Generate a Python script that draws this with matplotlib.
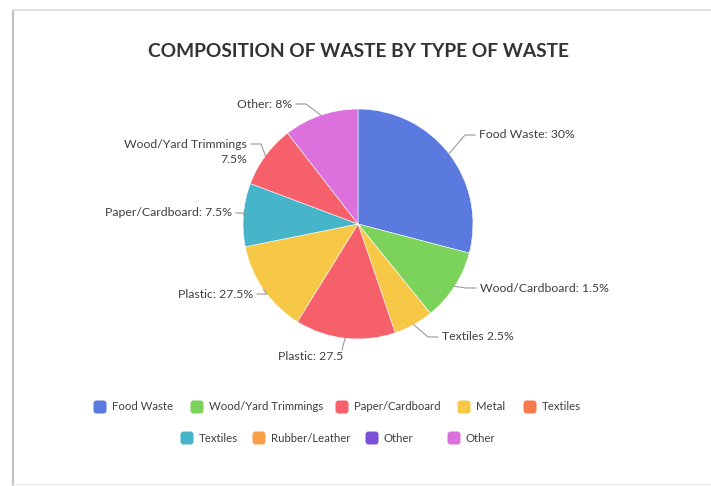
import numpy as np
import matplotlib.pyplot as plt
from matplotlib.patches import FancyBboxPatch

plt.rcParams['font.family'] = ['Lato', 'DejaVu Sans']

# slices, clockwise from 12 o'clock (sizes)
slice_labels = ['Food Waste: 30%', 'Wood/Cardboard: 1.5%', 'Textiles 2.5%', 'Plastic: 27.5',
                'Plastic: 27.5%', 'Paper/Cardboard: 7.5%', 'Wood/Yard Trimmings\n7.5%', 'Other: 8%']
slice_values = [29.1, 10.1, 5.6, 14.1, 13.0, 8.9, 8.8, 10.5]
slice_colors = ['#5a7ae0', '#7cd35c', '#f7c846', '#f6606a', '#f7c846', '#46b5c9', '#f6606a', '#dc70dc']

legend_labels = ['Food Waste', 'Wood/Yard Trimmings', 'Paper/Cardboard', 'Metal', 'Textiles',
                 'Textiles', 'Rubber/Leather', 'Other', 'Other']
legend_colors = ['#5a7ae0', '#7cd35c', '#f6606a', '#f7c846', '#f57a4e',
                 '#46b5c9', '#f7a045', '#7b50d6', '#dc70dc']

title = 'COMPOSITION OF WASTE BY TYPE OF WASTE'

W, H = 711, 486
fig = plt.figure(figsize=(W / 100, H / 100), dpi=100)
ax = fig.add_axes([0, 0, 1, 1])

def py(y):
    # y measured from the top of the image
    return H - y

cx, cy, r = 358, py(224), 115
wedges, _ = ax.pie(slice_values, colors=slice_colors, startangle=90, counterclock=False,
                   center=(cx, cy), radius=r, frame=True,
                   wedgeprops=dict(linewidth=0.4, edgecolor='white'))
ax.set_xlim(0, W)
ax.set_ylim(0, H)
ax.set_aspect('equal')
ax.axis('off')

# card border
ax.plot([12.5, 12.5], [py(10), 0], color='#c4c4c4', lw=1.6, solid_capstyle='butt')
ax.plot([12.5, W], [py(10), py(10)], color='#dedede', lw=1.4)
ax.plot([12.5, W], [py(484), py(484)], color='#eeeeee', lw=1.0)

ax.text(358, py(52), title, ha='center', va='center', fontsize=13.8, fontweight='bold', color='#333333')

# label anchor (x, y from top), side: +1 right, -1 left, 0 below
label_pos = [(479, 135, 1), (480, 288, 1), (442, 337, 1), (343, 357, 0),
             (253, 294, -1), (232, 213, -1), (247, 152, -1), (292, 104, -1)]

line_col = '#9a9a9a'
txt_col = '#3f3f3f'
for w, lab, (tx, ty, side) in zip(wedges, slice_labels, label_pos):
    mid = np.deg2rad((w.theta1 + w.theta2) / 2)
    ex, ey = cx + r * np.cos(mid), cy + r * np.sin(mid)
    if side == 0:
        ax.plot([ex, ex - 3], [ey, py(ty - 7)], color=line_col, lw=0.8)
        ax.text(tx, py(ty), lab, ha='right', va='center', fontsize=8.8, color=txt_col)
        continue
    ly = ty - 8 if '\n' in lab else ty
    x3 = tx - side * 4
    x2 = x3 - side * 10
    ax.plot([ex, x2, x3], [ey, py(ly), py(ly)], color=line_col, lw=0.8)
    ax.text(tx, py(ty), lab, ha='left' if side > 0 else 'right', va='center',
            fontsize=8.8, color=txt_col, multialignment='right', linespacing=1.4)

# legend
legend_pos = [(93, 407), (190, 407), (335, 407), (457, 407), (523, 407),
              (180, 438), (252, 438), (365, 438), (447, 438)]
for lab, col, (lx, ly) in zip(legend_labels, legend_colors, legend_pos):
    ax.add_patch(FancyBboxPatch((lx + 0.5, py(ly) - 6.5), 13, 13,
                                boxstyle='round,pad=0,rounding_size=3',
                                facecolor=col, edgecolor='none'))
    ax.text(lx + 19, py(ly), lab, ha='left', va='center', fontsize=8.2, color=txt_col)

fig.savefig('out.png', dpi=100)
